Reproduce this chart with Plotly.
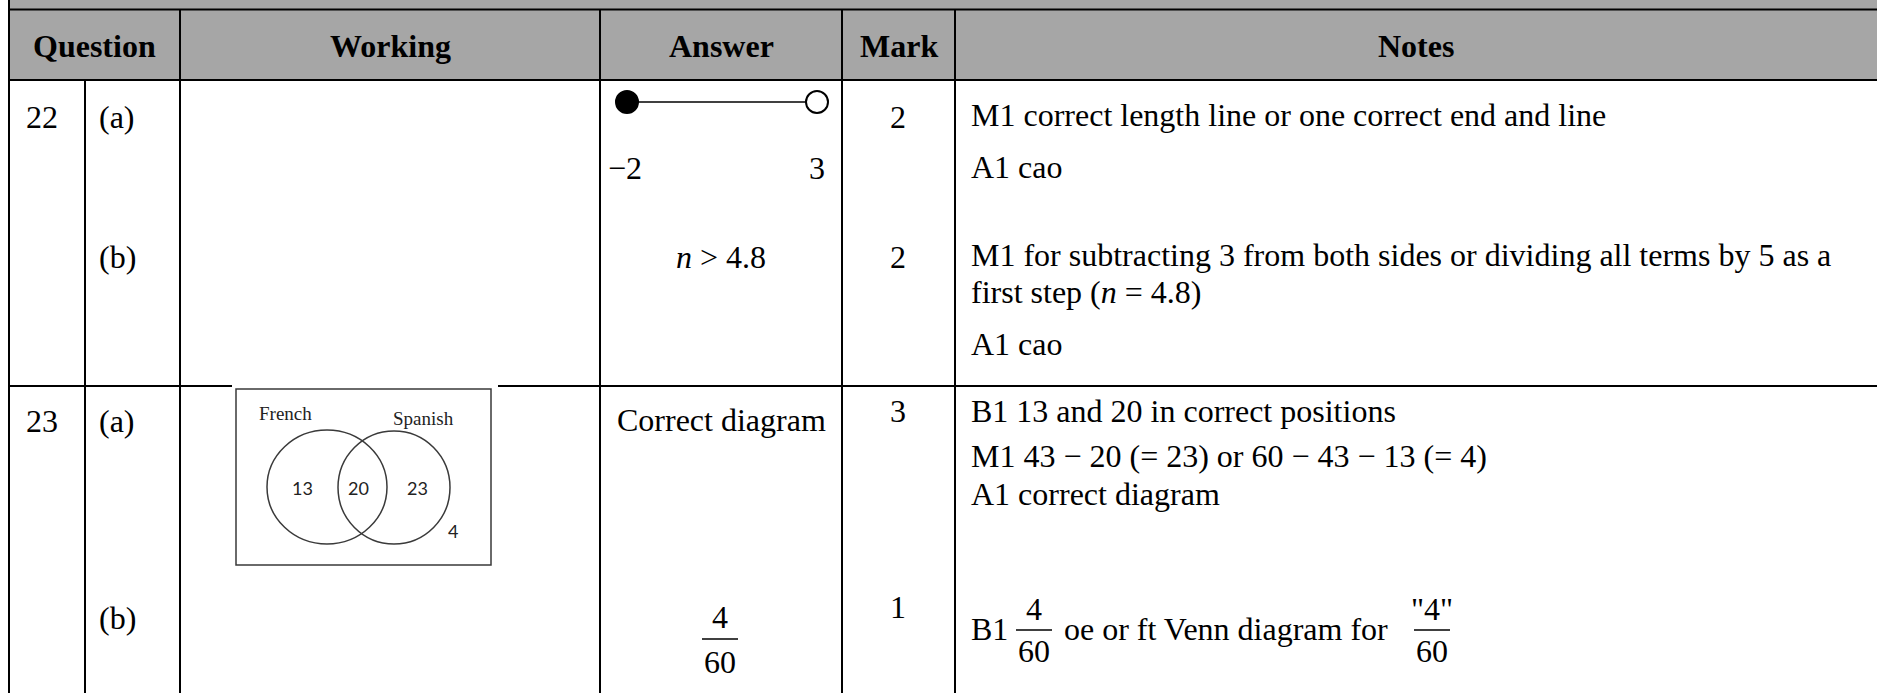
import plotly.graph_objects as go

# table content
columns = ["Question", "Working", "Answer", "Mark", "Notes"]
questions = ["22", "23"]
parts = ["(a)", "(b)", "(a)", "(b)"]
marks = ["2", "2", "3", "1"]
number_line = [-2, 3]
number_line_closed = [True, False]
answer_text = ["<i>n</i> > 4.8", "Correct diagram"]
answer_fraction = ["4", "60"]
notes_22a = ["M1 correct length line or one correct end and line", "A1 cao"]
notes_22b = ["M1 for subtracting 3 from both sides or dividing all terms by 5 as a",
             "first step (<i>n</i> = 4.8)", "A1 cao"]
notes_23a = ["B1 13 and 20 in correct positions",
             "M1 43 \u2212 20 (= 23) or 60 \u2212 43 \u2212 13 (= 4)",
             "A1 correct diagram"]
notes_23b = ["B1", "oe or ft Venn diagram for"]
notes_23b_fracs = [["4", "60"], ['"4"', "60"]]
venn_sets = ["French", "Spanish"]
venn_counts = ["13", "20", "23", "4"]

W, H = 1877, 693
col_x = [9, 180, 600, 842, 955, W]
q_split = 85
header_bottom = 80
row_line = 386
FONT = "Liberation Serif, Times New Roman, serif"
FS = 32

fig = go.Figure()
shapes = []
ann = []

def text(x, y, s, anchor="center", size=FS, bold=False, fam=FONT, color="black"):
    if bold:
        s = "<b>" + s + "</b>"
    ann.append(dict(x=x, y=y, xref="x", yref="y", text=s, showarrow=False,
                    xanchor=anchor, yanchor="middle",
                    font=dict(family=fam, size=size, color=color)))

def line(x0, y0, x1, y1, w=2, color="black"):
    shapes.append(dict(type="line", x0=x0, y0=y0, x1=x1, y1=y1, xref="x", yref="y",
                       line=dict(color=color, width=w)))

# header band
shapes.append(dict(type="rect", x0=col_x[0], x1=W, y0=0, y1=header_bottom,
                   fillcolor="#a6a6a6", line=dict(width=0), layer="below"))
for i, c in enumerate(columns):
    text((col_x[i] + col_x[i + 1]) / 2, 46, c, bold=True)

# grid lines
line(col_x[0], 9.5, W, 9.5)
line(col_x[0], header_bottom, W, header_bottom)
line(col_x[0], 0, col_x[0], H)
for x in col_x[1:-1]:
    line(x, 9.5, x, H)
line(q_split, header_bottom, q_split, H)
line(col_x[0], row_line, 232, row_line)
line(498, row_line, W, row_line)

# question numbers / parts
row_y = [117, 257, 421, 618]
text(24, row_y[0], questions[0], anchor="left")
text(24, row_y[2], questions[1], anchor="left")
for p, y in zip(parts, row_y):
    text(97, y, p, anchor="left")

# marks
for m, y in zip(marks, [117, 257, 411, 607]):
    text(898, y, m)

# answer 22(a): number line
nl_left, nl_right, nl_y = 627, 817, 102
def nl_px(v):
    return nl_left + (v - number_line[0]) * (nl_right - nl_left) / (number_line[1] - number_line[0])
nl_xs = [nl_px(v) for v in number_line]
fig.add_trace(go.Scatter(x=nl_xs, y=[nl_y, nl_y], mode="lines", hoverinfo="skip",
                         line=dict(color="black", width=1.5), showlegend=False))
fig.add_trace(go.Scatter(x=nl_xs, y=[nl_y, nl_y], mode="markers", hoverinfo="skip",
                         marker=dict(size=22, color=["black" if c else "white" for c in number_line_closed],
                                     line=dict(color="black", width=2)),
                         showlegend=False))
for v, x in zip(number_line, nl_xs):
    lbl = str(v).replace("-", "\u2212")
    text(x - (2 if v < 0 else 0), 168, lbl)

# answers
text(721, 257, answer_text[0])
text(721, 420, answer_text[1])
text(720, 617, answer_fraction[0])
line(702, 639, 738, 639, w=1.5)
text(720, 662, answer_fraction[1])

# notes
nx = 969
for s, y in zip(notes_22a, [115, 167]):
    text(nx, y, s, anchor="left")
for s, y in zip(notes_22b, [255, 292, 344]):
    text(nx, y, s, anchor="left")
for s, y in zip(notes_23a, [411, 456, 494]):
    text(nx, y, s, anchor="left")
text(nx, 629, notes_23b[0], anchor="left")
text(1062, 629, notes_23b[1], anchor="left")
for (num, den), cx in zip(notes_23b_fracs, [1034, 1432]):
    text(cx, 609, num)
    text(cx, 651, den)
    line(cx - 18, 630, cx + 18, 630, w=1.5)

# Venn diagram in working column
shapes.append(dict(type="rect", x0=232, x1=498, y0=382, y1=570, fillcolor="white",
                   line=dict(width=0)))
shapes.append(dict(type="rect", x0=236, x1=491, y0=389, y1=565, fillcolor="rgba(0,0,0,0)",
                   line=dict(color="#3a3a3a", width=1.5)))
shapes.append(dict(type="circle", x0=267, x1=387, y0=430, y1=544,
                   line=dict(color="#3a3a3a", width=1.5)))
shapes.append(dict(type="circle", x0=338, x1=450, y0=431, y1=544,
                   line=dict(color="#3a3a3a", width=1.5)))
text(285, 413, venn_sets[0], size=19, color="#222")
text(423, 418, venn_sets[1], size=19, color="#222")
venn_pos = [(302, 488), (358, 488), (417, 488), (453, 531)]
for c, (x, y) in zip(venn_counts, venn_pos):
    text(x, y, c, size=18, fam="Lato, Open Sans, sans-serif", color="#222")

fig.update_layout(width=W, height=H, margin=dict(l=0, r=0, t=0, b=0), autosize=False,
                  paper_bgcolor="white", plot_bgcolor="white",
                  shapes=shapes, annotations=ann, showlegend=False,
                  xaxis=dict(range=[0, W], visible=False, fixedrange=True),
                  yaxis=dict(range=[H, 0], visible=False, fixedrange=True))
# drop the default body margin so the table starts at the page corner
fig.write_html("out.html", config={"displayModeBar": False},
               post_script="document.body.style.margin='0';document.body.style.overflow='hidden';")
